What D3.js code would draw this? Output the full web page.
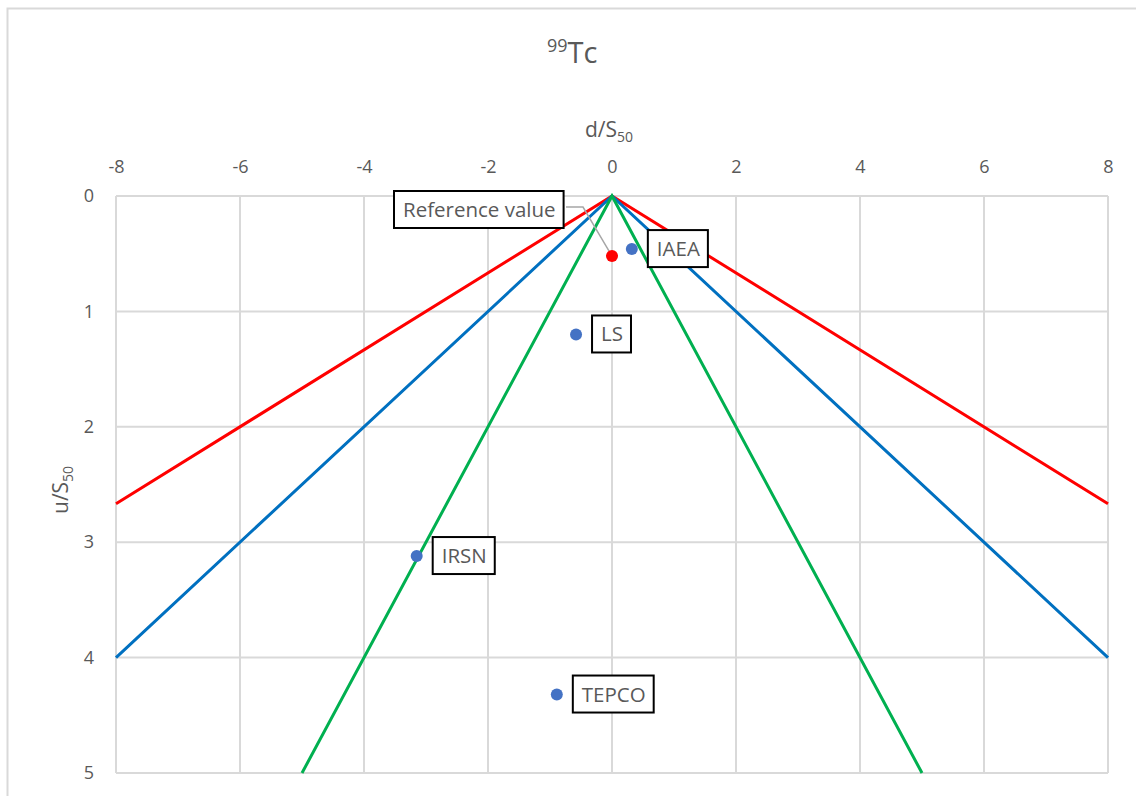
<!DOCTYPE html>
<html>
<head>
<meta charset="utf-8">
<script src="https://cdn.jsdelivr.net/npm/d3@7"></script>
<style>
  html, body { margin: 0; padding: 0; background: #fff; }
  svg text { font-family: "Open Sans", Lato, sans-serif; fill: #595959; }
</style>
</head>
<body>
<svg id="chart" width="1136" height="796"></svg>
<script>
// Laboratory results: relative deviation d/S50 and relative uncertainty u/S50
const labNames = ["IAEA", "LS", "IRSN", "TEPCO"];
const labD = [0.32, -0.58, -3.15, -0.89];
const labU = [0.46, 1.20, 3.12, 4.32];

// Reference value point
const refD = [0];
const refU = [0.52];

// Acceptance limit lines (u/S50 = |d/S50| / k)
const redLine = [[-8, 8 / 3], [0, 0], [8, 8 / 3]];
const blueLine = [[-8, 4], [0, 0], [8, 4]];
const greenLine = [[-5, 5], [0, 0], [5, 5]];

const xTicks = [-8, -6, -4, -2, 0, 2, 4, 6, 8];
const yTicks = [0, 1, 2, 3, 4, 5];

const svg = d3.select("#chart");

// outer chart frame
svg.append("rect")
  .attr("x", 7.5).attr("y", 8.5)
  .attr("width", 1200).attr("height", 900)
  .attr("fill", "none").attr("stroke", "#d9d9d9").attr("stroke-width", 2);

const plotL = 116, plotR = 1108, plotT = 196, plotB = 773;
const x = d3.scaleLinear().domain([-8, 8]).range([plotL, plotR]);
const y = d3.scaleLinear().domain([0, 5]).range([plotT, plotB]);

// gridlines
const grid = svg.append("g").attr("stroke", "#d9d9d9").attr("stroke-width", 2);
grid.selectAll(".vx").data(xTicks).join("line")
  .attr("x1", d => x(d)).attr("x2", d => x(d))
  .attr("y1", plotT).attr("y2", plotB);
grid.selectAll(".hy").data(yTicks).join("line")
  .attr("x1", plotL).attr("x2", plotR)
  .attr("y1", d => y(d)).attr("y2", d => y(d));

// top axis
const xAxis = svg.append("g")
  .attr("transform", `translate(0,${plotT})`)
  .call(d3.axisTop(x).tickValues(xTicks).tickFormat(d => String(d))
    .tickSize(0).tickPadding(23));
xAxis.select(".domain").remove();
xAxis.selectAll("text").style("font-size", "18px").attr("fill", "#595959");

// left axis
const yAxis = svg.append("g")
  .attr("transform", `translate(${plotL},0)`)
  .call(d3.axisLeft(y).tickValues(yTicks).tickFormat(d => String(d))
    .tickSize(0).tickPadding(22));
yAxis.select(".domain").remove();
yAxis.selectAll("text").style("font-size", "18px").attr("fill", "#595959");

// limit lines
const line = d3.line().x(d => x(d[0])).y(d => y(d[1]));
const lines = [
  { data: redLine, color: "#ff0000" },
  { data: blueLine, color: "#0070c0" },
  { data: greenLine, color: "#00b050" }
];
svg.append("g").selectAll("path").data(lines).join("path")
  .attr("d", d => line(d.data))
  .attr("fill", "none")
  .attr("stroke", d => d.color)
  .attr("stroke-width", 3);

// leader line for the reference value label
svg.append("polyline")
  .attr("points", `566,207 583,207 ${x(refD[0])},${y(refU[0])}`)
  .attr("fill", "none").attr("stroke", "#a6a6a6").attr("stroke-width", 1.5);

// points
svg.append("g").selectAll("circle").data(labD).join("circle")
  .attr("cx", d => x(d)).attr("cy", (d, i) => y(labU[i]))
  .attr("r", 6).attr("fill", "#4472c4");
svg.append("g").selectAll("circle").data(refD).join("circle")
  .attr("cx", d => x(d)).attr("cy", (d, i) => y(refU[i]))
  .attr("r", 6).attr("fill", "#ff0000");

// boxed labels
function boxLabel(text, bx, by) {
  const g = svg.append("g");
  const t = g.append("text").attr("x", bx + 9).attr("y", by + 26)
    .style("font-size", "20.5px").text(text);
  const w = t.node().getComputedTextLength();
  g.insert("rect", "text")
    .attr("x", bx).attr("y", by)
    .attr("width", w + 17).attr("height", 37)
    .attr("fill", "#fff").attr("stroke", "#000").attr("stroke-width", 2);
}
boxLabel("Reference value", 394, 191);
labNames.forEach((n, i) => {
  boxLabel(n, x(labD[i]) + 16, y(labU[i]) - 19);
});

// title
const title = svg.append("text").attr("x", 547).attr("y", 63).style("font-size", "29px");
title.append("tspan").style("font-size", "18px").attr("dy", "-11").text("99");
title.append("tspan").attr("dy", "11").text("Tc");

// axis titles
const xt = svg.append("text").attr("x", 585).attr("y", 137).style("font-size", "21px");
xt.append("tspan").text("d/S");
xt.append("tspan").style("font-size", "14px").attr("dy", "5").text("50");

const yt = svg.append("text")
  .attr("transform", "translate(68,514) rotate(-90)")
  .style("font-size", "21px");
yt.append("tspan").text("u/S");
yt.append("tspan").style("font-size", "14px").attr("dy", "5").text("50");
</script>
</body>
</html>
